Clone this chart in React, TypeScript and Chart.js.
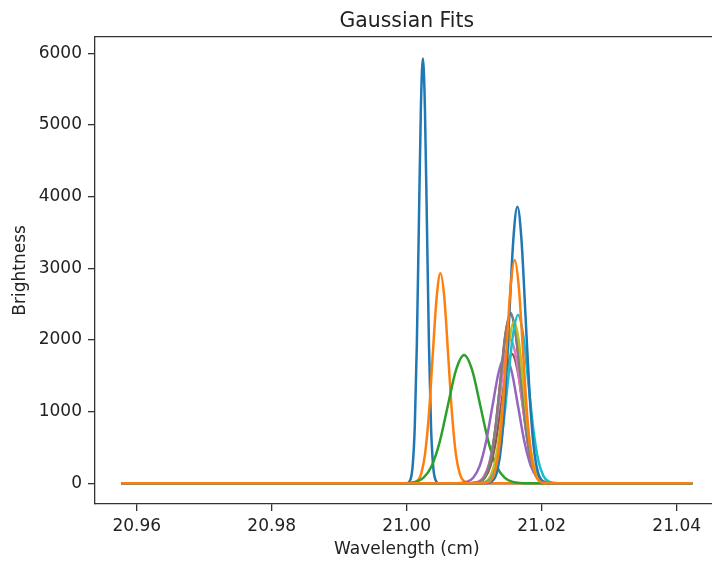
import React, { useEffect, useRef } from "react";
import { Chart, registerables } from "chart.js";

Chart.register(...registerables);

const TITLE = "Gaussian Fits";
const X_LABEL = "Wavelength (cm)";
const Y_LABEL = "Brightness";

const xTicks = [20.96, 20.98, 21.0, 21.02, 21.04];
const yTicks = [0, 1000, 2000, 3000, 4000, 5000, 6000];

const seriesColors = [
  "#1f77b4", "#ff7f0e", "#2ca02c", "#d62728", "#9467bd", "#8c564b",
  "#e377c2", "#7f7f7f", "#bcbd22", "#17becf", "#1f77b4", "#ff7f0e",
];

// Fit 1 (blue)
const fit1X = [20.9577, 21.0, 21.0006, 21.0009, 21.0012, 21.0015, 21.0018, 21.0021, 21.0024, 21.0027, 21.003, 21.0033, 21.0036, 21.0039, 21.0042, 21.0048, 21.0423];
const fit1Y = [0, 0, 65, 261, 801, 1927, 3599, 5230, 5930, 5230, 3599, 1927, 801, 261, 65, 0, 0];
// Fit 2 (orange)
const fit2X = [20.9577, 21.0004, 21.00155, 21.00213, 21.0027, 21.00328, 21.00385, 21.00443, 21.005, 21.00558, 21.00615, 21.00673, 21.0073, 21.00788, 21.00845, 21.0096, 21.0423];
const fit2Y = [0, 0, 32, 129, 396, 952, 1779, 2584, 2930, 2584, 1779, 952, 396, 129, 32, 0, 0];
// Fit 3 (green)
const fit3X = [20.9577, 20.9989, 21.0013, 21.0025, 21.0037, 21.0049, 21.0061, 21.0073, 21.0085, 21.0097, 21.0109, 21.0121, 21.0133, 21.0145, 21.0157, 21.0181, 21.0423];
const fit3Y = [0, 0, 20, 79, 242, 582, 1087, 1579, 1790, 1579, 1087, 582, 242, 79, 20, 0, 0];
// Fit 4 (red, hidden under later fits)
const fit4X = [20.9577, 21.0094, 21.0109, 21.01165, 21.0124, 21.01315, 21.0139, 21.01465, 21.0154, 21.01615, 21.0169, 21.01765, 21.0184, 21.01915, 21.0199, 21.0214, 21.0423];
const fit4Y = [0, 0, 26, 104, 319, 767, 1433, 2082, 2360, 2082, 1433, 767, 319, 104, 26, 0, 0];
// Fit 5 (purple)
const fit5X = [20.9577, 21.007, 21.0089, 21.00985, 21.0108, 21.01175, 21.0127, 21.01365, 21.0146, 21.01555, 21.0165, 21.01745, 21.0184, 21.01935, 21.0203, 21.0222, 21.0423];
const fit5Y = [0, 0, 19, 78, 239, 575, 1074, 1561, 1770, 1561, 1074, 575, 239, 78, 19, 0, 0];
// Fit 6 (brown)
const fit6X = [20.9577, 21.0092, 21.0108, 21.0116, 21.0124, 21.0132, 21.014, 21.0148, 21.0156, 21.0164, 21.0172, 21.018, 21.0188, 21.0196, 21.0204, 21.022, 21.0423];
const fit6Y = [0, 0, 20, 79, 244, 587, 1096, 1592, 1805, 1592, 1096, 587, 244, 79, 20, 0, 0];
// Fit 7 (pink)
const fit7X = [20.9577, 21.009, 21.0106, 21.0114, 21.0122, 21.013, 21.0138, 21.0146, 21.0154, 21.0162, 21.017, 21.0178, 21.0186, 21.0194, 21.0202, 21.0218, 21.0423];
const fit7Y = [0, 0, 22, 88, 270, 650, 1214, 1764, 2000, 1764, 1214, 650, 270, 88, 22, 0, 0];
// Fit 8 (gray)
const fit8X = [20.9577, 21.0094, 21.0109, 21.01165, 21.0124, 21.01315, 21.0139, 21.01465, 21.0154, 21.01615, 21.0169, 21.01765, 21.0184, 21.01915, 21.0199, 21.0214, 21.0423];
const fit8Y = [0, 0, 26, 105, 321, 772, 1442, 2095, 2375, 2095, 1442, 772, 321, 105, 26, 0, 0];
// Fit 9 (olive)
const fit9X = [20.9577, 21.0103, 21.0117, 21.0124, 21.0131, 21.0138, 21.0145, 21.0152, 21.0159, 21.0166, 21.0173, 21.018, 21.0187, 21.0194, 21.0201, 21.0215, 21.0423];
const fit9Y = [0, 0, 25, 99, 304, 733, 1369, 1989, 2255, 1989, 1369, 733, 304, 99, 25, 0, 0];
// Fit 10 (cyan)
const fit10X = [20.9577, 21.0105, 21.012, 21.01275, 21.0135, 21.01425, 21.015, 21.01575, 21.0165, 21.01725, 21.018, 21.01875, 21.0195, 21.02025, 21.021, 21.0225, 21.0423];
const fit10Y = [0, 0, 26, 103, 317, 764, 1426, 2073, 2350, 2073, 1426, 764, 317, 103, 26, 0, 0];
// Fit 11 (blue)
const fit11X = [20.9577, 21.0116, 21.0128, 21.0134, 21.014, 21.0146, 21.0152, 21.0158, 21.0164, 21.017, 21.0176, 21.0182, 21.0188, 21.0194, 21.02, 21.0212, 21.0423];
const fit11Y = [0, 0, 42, 170, 521, 1255, 2343, 3405, 3860, 3405, 2343, 1255, 521, 170, 42, 0, 0];
// Fit 12 (orange)
const fit12X = [20.9577, 21.0112, 21.0124, 21.013, 21.0136, 21.0142, 21.0148, 21.0154, 21.016, 21.0166, 21.0172, 21.0178, 21.0184, 21.019, 21.0196, 21.0208, 21.0423];
const fit12Y = [0, 0, 34, 137, 421, 1012, 1891, 2747, 3115, 2747, 1891, 1012, 421, 137, 34, 0, 0];

const fitsX = [fit1X, fit2X, fit3X, fit4X, fit5X, fit6X, fit7X, fit8X, fit9X, fit10X, fit11X, fit12X];
const fitsY = [fit1Y, fit2Y, fit3Y, fit4Y, fit5Y, fit6Y, fit7Y, fit8Y, fit9Y, fit10Y, fit11Y, fit12Y];

const X_MIN = 20.95382;
const X_MAX = 21.04621;
const Y_MIN = -289;
const Y_MAX = 6233;

const FONT = "'DejaVu Sans', sans-serif";
const TEXT_COLOR = "#222";
const AXIS_COLOR = "#333";
const CANVAS_W = 730;
const CANVAS_H = 563;

const framePlugin = {
  id: "frameAndTitle",
  afterDraw(chart: any) {
    const { ctx, chartArea: a } = chart;
    ctx.save();
    ctx.strokeStyle = AXIS_COLOR;
    ctx.lineWidth = 1.3;
    ctx.beginPath();
    ctx.moveTo(a.left, a.top);
    ctx.lineTo(a.right + 5, a.top);
    ctx.stroke();
    ctx.fillStyle = TEXT_COLOR;
    ctx.font = `20.4px ${FONT}`;
    ctx.textAlign = "center";
    ctx.textBaseline = "alphabetic";
    ctx.fillText(TITLE, (a.left + a.right) / 2, 26.5);
    ctx.restore();
  },
};

export default function App() {
  const ref = useRef<HTMLCanvasElement>(null);

  useEffect(() => {
    const canvas = ref.current;
    if (!canvas) return;
    const n = fitsX.length;
    const datasets = fitsX.map((xs, i) => ({
      label: `Fit ${i + 1}`,
      data: xs.map((x, j) => ({ x, y: fitsY[i][j] })),
      borderColor: seriesColors[i],
      backgroundColor: seriesColors[i],
      borderWidth: 2.5,
      pointRadius: 0,
      pointHoverRadius: 0,
      fill: false,
      cubicInterpolationMode: "monotone" as const,
      order: n - i,
    }));

    const chart = new Chart(canvas, {
      type: "line",
      data: { datasets },
      plugins: [framePlugin],
      options: {
        animation: false,
        responsive: false,
        devicePixelRatio: 1,
        events: [],
        layout: {
          padding: { left: 0, top: 36.7, right: CANVAS_W - 718.6, bottom: 0 },
        },
        plugins: {
          legend: { display: false },
          title: { display: false },
          tooltip: { enabled: false },
        },
        scales: {
          x: {
            type: "linear",
            min: X_MIN,
            max: X_MAX,
            afterFit: (s: any) => {
              s.height = 59;
            },
            afterBuildTicks: (s: any) => {
              s.ticks = xTicks.map((v) => ({ value: v }));
            },
            ticks: {
              autoSkip: false,
              maxRotation: 0,
              minRotation: 0,
              padding: 5,
              color: TEXT_COLOR,
              font: { family: FONT, size: 17 },
              callback: (v: any) => Number(v).toFixed(2),
            },
            grid: {
              display: true,
              drawOnChartArea: false,
              drawTicks: true,
              tickLength: 7,
              color: AXIS_COLOR,
              lineWidth: 1.3,
            },
            border: { display: true, color: AXIS_COLOR, width: 1.3 },
            title: {
              display: true,
              text: X_LABEL,
              color: TEXT_COLOR,
              font: { family: FONT, size: 17 },
              padding: { top: 0, bottom: 3 },
            },
          },
          y: {
            type: "linear",
            min: Y_MIN,
            max: Y_MAX,
            afterFit: (s: any) => {
              s.width = 95;
            },
            afterBuildTicks: (s: any) => {
              s.ticks = yTicks.map((v) => ({ value: v }));
            },
            ticks: {
              autoSkip: false,
              padding: 6,
              color: TEXT_COLOR,
              font: { family: FONT, size: 17 },
              callback: (v: any) => String(v),
            },
            grid: {
              display: true,
              drawOnChartArea: false,
              drawTicks: true,
              tickLength: 7,
              color: AXIS_COLOR,
              lineWidth: 1.3,
            },
            border: { display: true, color: AXIS_COLOR, width: 1.3 },
            title: {
              display: true,
              text: Y_LABEL,
              color: TEXT_COLOR,
              font: { family: FONT, size: 17 },
              padding: { top: 10, bottom: 0 },
            },
          },
        },
      },
    });
    return () => chart.destroy();
  }, []);

  return (
    <div
      style={{
        position: "fixed",
        left: 0,
        top: 0,
        width: 712,
        height: 563,
        overflow: "hidden",
        background: "#fff",
      }}
    >
      <canvas
        ref={ref}
        width={CANVAS_W}
        height={CANVAS_H}
        style={{ display: "block", width: CANVAS_W, height: CANVAS_H }}
      />
    </div>
  );
}
